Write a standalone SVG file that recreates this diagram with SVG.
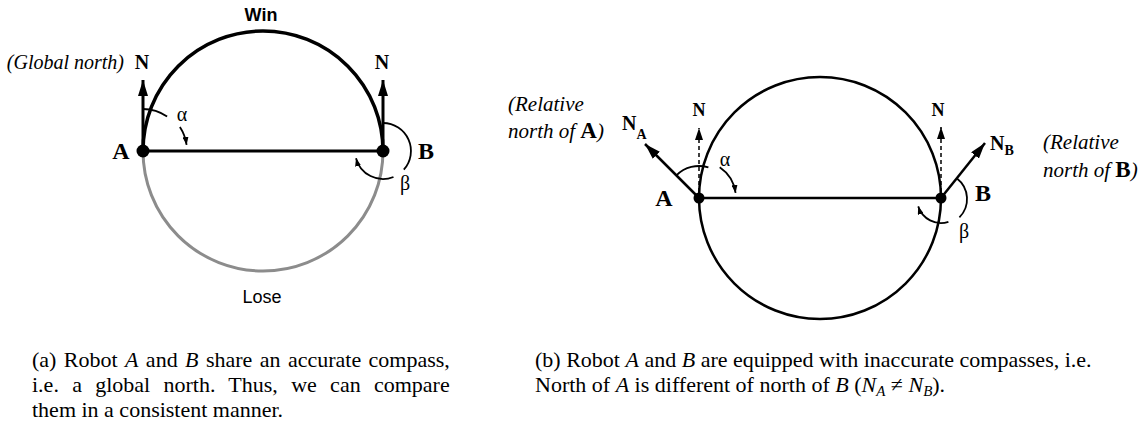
<svg xmlns="http://www.w3.org/2000/svg" width="1147" height="429" viewBox="0 0 1147 429">
<style>
.bold{font-family:"Liberation Serif","Times New Roman",serif;font-weight:bold;fill:#000}
.it{font-family:"Liberation Serif","Times New Roman",serif;font-style:italic;fill:#000}
.greek{font-family:"Liberation Serif","DejaVu Serif",serif;font-size:20px;fill:#000}
.cap{font-family:"Liberation Serif","Times New Roman",serif;font-size:22px;fill:#000}
.sans{font-family:"Liberation Sans",Arial,sans-serif;font-size:18px;fill:#000}
.arc{fill:none;stroke:#000;stroke-width:1.8}
.dot{fill:#000}
</style>
<defs>
<marker id="hBig" markerUnits="userSpaceOnUse" markerWidth="16" markerHeight="10" viewBox="0 0 16 10" refX="16" refY="5" orient="auto"><path d="M0,0 L16,5 L0,10 z" fill="#000"/></marker>
<marker id="hMed" markerUnits="userSpaceOnUse" markerWidth="12" markerHeight="8" viewBox="0 0 12 8" refX="12" refY="4" orient="auto"><path d="M0,0 L12,4 L0,8 z" fill="#000"/></marker>
<marker id="hSm" markerUnits="userSpaceOnUse" markerWidth="8" markerHeight="6" viewBox="0 0 8 6" refX="8" refY="3" orient="auto"><path d="M0,0 L8,3 L0,6 z" fill="#000"/></marker>
</defs>

<g id="connectors">
  <!-- left diagram -->
  <path d="M143,151 A120,120 0 0 1 383,151" fill="none" stroke="#000" stroke-width="3.5"/>
  <path d="M383,151 A120,120 0 0 1 143,151" fill="none" stroke="#8c8c8c" stroke-width="3"/>
  <path d="M143,151 L383,151" stroke="#000" stroke-width="3"/>
  <path d="M143,151 L143,80" stroke="#000" stroke-width="3" marker-end="url(#hBig)"/>
  <path d="M383,151 L383,80" stroke="#000" stroke-width="3" marker-end="url(#hBig)"/>
  <path class="arc" d="M143,109 A42,42 0 0 1 167.1,116.6"/>
  <path class="arc" d="M179.9,127 A44,44 0 0 1 186.6,144.9" marker-end="url(#hSm)"/>
  <path class="arc" d="M383,123 A28,28 0 0 1 403.8,169.7"/>
  <path class="arc" d="M393.5,177 A28,28 0 0 1 356,158.2" marker-end="url(#hSm)"/>
  <!-- right diagram -->
  <circle cx="820" cy="198" r="121" fill="none" stroke="#000" stroke-width="2.5"/>
  <path d="M699,198 L941,198" stroke="#000" stroke-width="2.5"/>
  <path d="M699,198 L645,144" stroke="#000" stroke-width="2.5" marker-end="url(#hBig)"/>
  <path d="M941,198 L985,143" stroke="#000" stroke-width="2.5" marker-end="url(#hBig)"/>
  <path d="M699,192 L699,128" stroke="#000" stroke-width="1.5" stroke-dasharray="4 3" marker-end="url(#hMed)"/>
  <path d="M941,192 L941,127" stroke="#000" stroke-width="1.5" stroke-dasharray="4 3" marker-end="url(#hMed)"/>
  <path class="arc" d="M676.4,175.4 A32,32 0 0 1 708.4,167.4"/>
  <path class="arc" d="M719.7,167.3 A37,37 0 0 1 735.6,192.9" marker-end="url(#hSm)"/>
  <path class="arc" d="M957,178.5 A26,26 0 0 1 959.4,217.4"/>
  <path class="arc" d="M948.4,221.8 A24,24 0 0 1 918.2,206.4" marker-end="url(#hSm)"/>
</g>

<g id="left-A">
  <circle class="dot" cx="143" cy="151" r="6.5"/>
  <text class="bold" x="121" y="159" font-size="24" text-anchor="middle">A</text>
</g>
<g id="left-B">
  <circle class="dot" cx="383" cy="151" r="6.5"/>
  <text class="bold" x="418" y="159" font-size="24">B</text>
</g>
<g id="left-labels">
  <text class="it" x="124" y="69" font-size="20" text-anchor="end">(Global north)</text>
  <text class="bold" x="142" y="69" font-size="20" text-anchor="middle">N</text>
  <text class="bold" x="382" y="69" font-size="20" text-anchor="middle">N</text>
  <text class="sans" x="261" y="21" font-weight="bold" text-anchor="middle">Win</text>
  <text class="sans" x="262" y="303" text-anchor="middle">Lose</text>
  <text class="greek" x="182" y="121" text-anchor="middle">α</text>
  <text class="greek" x="405" y="190" text-anchor="middle">β</text>
</g>

<g id="right-A">
  <circle class="dot" cx="699" cy="198" r="5.5"/>
  <text class="bold" x="664" y="206" font-size="24" text-anchor="middle">A</text>
</g>
<g id="right-B">
  <circle class="dot" cx="941" cy="198" r="5.5"/>
  <text class="bold" x="975" y="201" font-size="24">B</text>
</g>
<g id="right-labels">
  <text class="it" x="508" y="111" font-size="21">(Relative</text>
  <text class="it" x="508" y="138" font-size="21">north of <tspan class="bold" font-style="normal" font-size="23">A</tspan>)</text>
  <text class="bold" x="622" y="130" font-size="20">N<tspan font-size="14" dy="9">A</tspan></text>
  <text class="bold" x="699" y="116" font-size="18" text-anchor="middle">N</text>
  <text class="bold" x="938" y="116" font-size="18" text-anchor="middle">N</text>
  <text class="greek" x="725" y="166" text-anchor="middle">α</text>
  <text class="greek" x="964" y="238" text-anchor="middle">β</text>
  <text class="bold" x="990" y="150" font-size="20">N<tspan font-size="14" dy="5">B</tspan></text>
  <text class="it" x="1043" y="149" font-size="21">(Relative</text>
  <text class="it" x="1043" y="177" font-size="21">north of <tspan class="bold" font-style="normal" font-size="23">B</tspan>)</text>
</g>

<g id="captions">
  <text class="cap" x="32" y="367" word-spacing="1.9">(a) Robot <tspan font-style="italic">A</tspan> and <tspan font-style="italic">B</tspan> share an accurate compass,</text>
  <text class="cap" x="32" y="392" word-spacing="7.8">i.e. a global north. Thus, we can compare</text>
  <text class="cap" x="32" y="417">them in a consistent manner.</text>
  <text class="cap" x="535" y="367">(b) Robot <tspan font-style="italic">A</tspan> and <tspan font-style="italic">B</tspan> are equipped with inaccurate compasses, i.e.</text>
  <text class="cap" x="535" y="392">North of <tspan font-style="italic">A</tspan> is different of north of <tspan font-style="italic">B</tspan> (<tspan font-style="italic">N</tspan><tspan font-style="italic" font-size="15" dy="4">A</tspan><tspan dy="-4"> ≠ </tspan><tspan font-style="italic">N</tspan><tspan font-style="italic" font-size="15" dy="4">B</tspan><tspan dy="-4">).</tspan></text>
</g>
</svg>
